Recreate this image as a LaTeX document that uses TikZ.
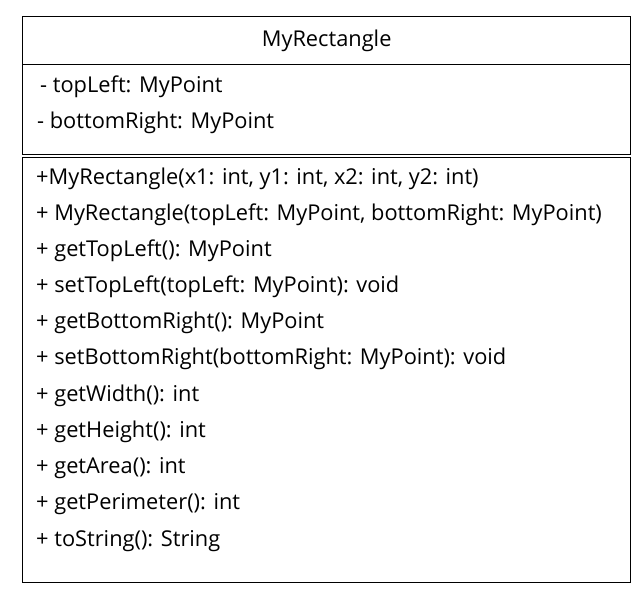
\documentclass[tikz,border=0pt]{standalone}
\usepackage{fontspec}
\setmainfont{Open Sans}
\begin{document}
\begin{tikzpicture}[x=1pt,y=-1pt,
  compart/.style={draw, line width=1.3pt, rectangle, inner sep=0pt, anchor=north west, minimum width=608pt},
  member/.style={anchor=west, inner sep=0pt, text height=0.72em, text depth=0.2em, font=\fontsize{21.8}{24}\selectfont},
  title/.style={inner sep=0pt, font=\fontsize{21.8}{24}\selectfont}]
  \useasboundingbox (0,0) rectangle (644,596);
  % class compartments
  \node[compart, minimum height=48pt] (head) at (22,16) {};
  \node[compart, minimum height=90pt] (attrs) at (22,64) {};
  \node[compart, minimum height=425pt] (ops) at (22,157) {};
  % class name
  \node[title] (name) at (head.center) {MyRectangle};
  % attributes
  \node[member] (a1) at (40,90) {- topLeft: MyPoint};
  \node[member] (a2) at (37,126) {- bottomRight: MyPoint};
  % operations
  \node[member] (m1) at (36,182) {+MyRectangle(x1: int, y1: int, x2: int, y2: int)};
  \node[member] (m2) at (36,218) {+ MyRectangle(topLeft: MyPoint, bottomRight: MyPoint)};
  \node[member] (m3) at (36,254) {+ getTopLeft(): MyPoint};
  \node[member] (m4) at (36,290) {+ setTopLeft(topLeft: MyPoint): void};
  \node[member] (m5) at (36,326) {+ getBottomRight(): MyPoint};
  \node[member] (m6) at (36,362) {+ setBottomRight(bottomRight: MyPoint): void};
  \node[member] (m7) at (36,399) {+ getWidth(): int};
  \node[member] (m8) at (36,435) {+ getHeight(): int};
  \node[member] (m9) at (36,471) {+ getArea(): int};
  \node[member] (m10) at (36,507) {+ getPerimeter(): int};
  \node[member] (m11) at (36,544) {+ toString(): String};
\end{tikzpicture}
\end{document}
